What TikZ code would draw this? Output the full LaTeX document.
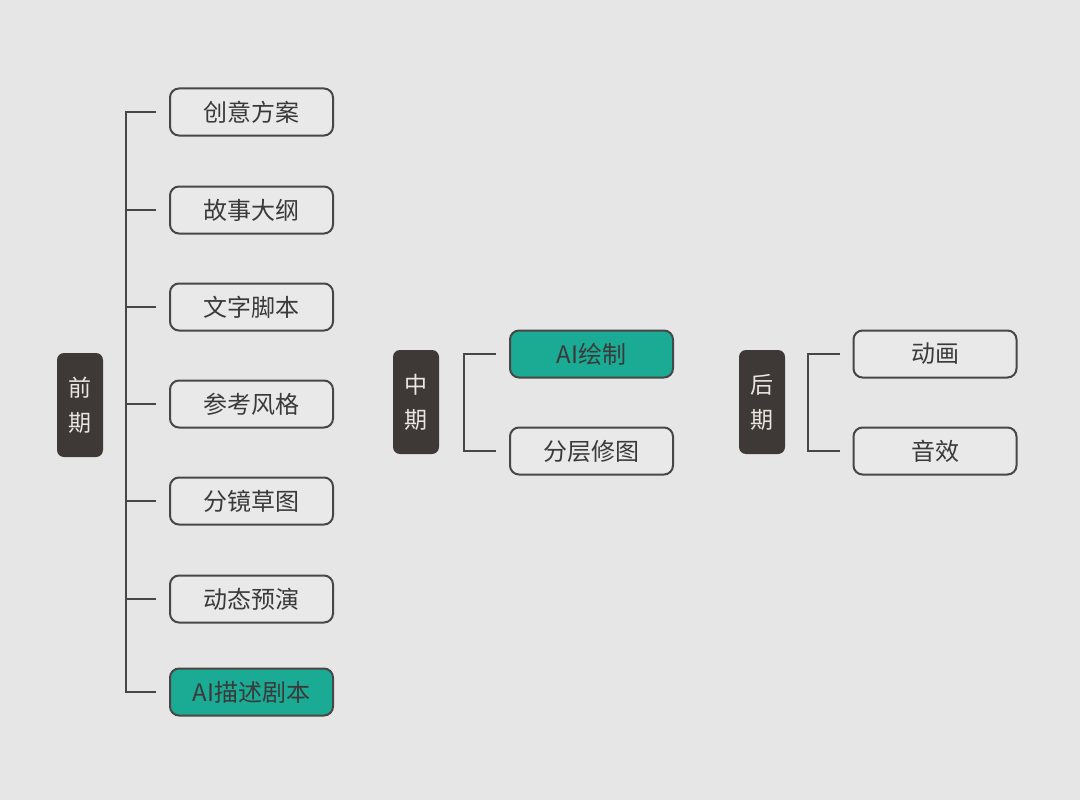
\documentclass[tikz,border=0pt]{standalone}
\usepackage{fontspec}
\setmainfont{Noto Sans CJK SC}
\definecolor{bg}{HTML}{E6E6E6}
\definecolor{boxfill}{HTML}{E9E9E9}
\definecolor{edge}{HTML}{4A4646}
\definecolor{phase}{HTML}{3E3937}
\definecolor{phasetext}{HTML}{EDE6E0}
\definecolor{teal}{HTML}{1BAA94}
\definecolor{txt}{HTML}{3A3A3A}
\begin{document}
\begin{tikzpicture}[x=1pt,y=-1pt,
  item/.style={draw=edge,line width=2pt,rounded corners=9pt,fill=boxfill,
    minimum width=163pt,minimum height=47pt,inner sep=0pt,text=txt,
    font=\fontsize{24}{26}\selectfont},
  hl/.style={item,fill=teal},
  phasebox/.style={fill=phase,rounded corners=7pt,minimum width=46pt,
    minimum height=104pt,inner sep=0pt,text=phasetext,align=center,
    font=\fontsize{23}{35}\selectfont},
  link/.style={draw=edge,line width=2pt}]
\fill[bg] (0,0) rectangle (1080,800);
\useasboundingbox (0,0) rectangle (1080,800);
% pre-production
\node[phasebox] (pre) at (80,405) {前\\期};
\node[item] (a1) at (251.5,112) {创意方案};
\node[item] (a2) at (251.5,210) {故事大纲};
\node[item] (a3) at (251.5,307) {文字脚本};
\node[item] (a4) at (251.5,404) {参考风格};
\node[item] (a5) at (251.5,501) {分镜草图};
\node[item] (a6) at (251.5,599) {动态预演};
\node[hl] (a7) at (251.5,692) {AI描述剧本};
\foreach \n in {a2,a3,a4,a5,a6}{
  \draw[link] (\n.west) ++(-13,0) -- ++(-30,0);
}
\draw[link] (a1.west) ++(-13,0) -| ([xshift=-43pt]a7.west) -- ++(30,0);
% production
\node[phasebox] (mid) at (416,402) {中\\期};
\node[hl] (b1) at (591.5,354) {AI绘制};
\node[item] (b2) at (591.5,451) {分层修图};
\draw[link] (b1.west) ++(-13,0) -| ([xshift=-45pt]b2.west) -- ++(32,0);
% post-production
\node[phasebox] (post) at (762,402) {后\\期};
\node[item] (c1) at (935,354) {动画};
\node[item] (c2) at (935,451) {音效};
\draw[link] (c1.west) ++(-13,0) -| ([xshift=-45pt]c2.west) -- ++(32,0);
\end{tikzpicture}
\end{document}
